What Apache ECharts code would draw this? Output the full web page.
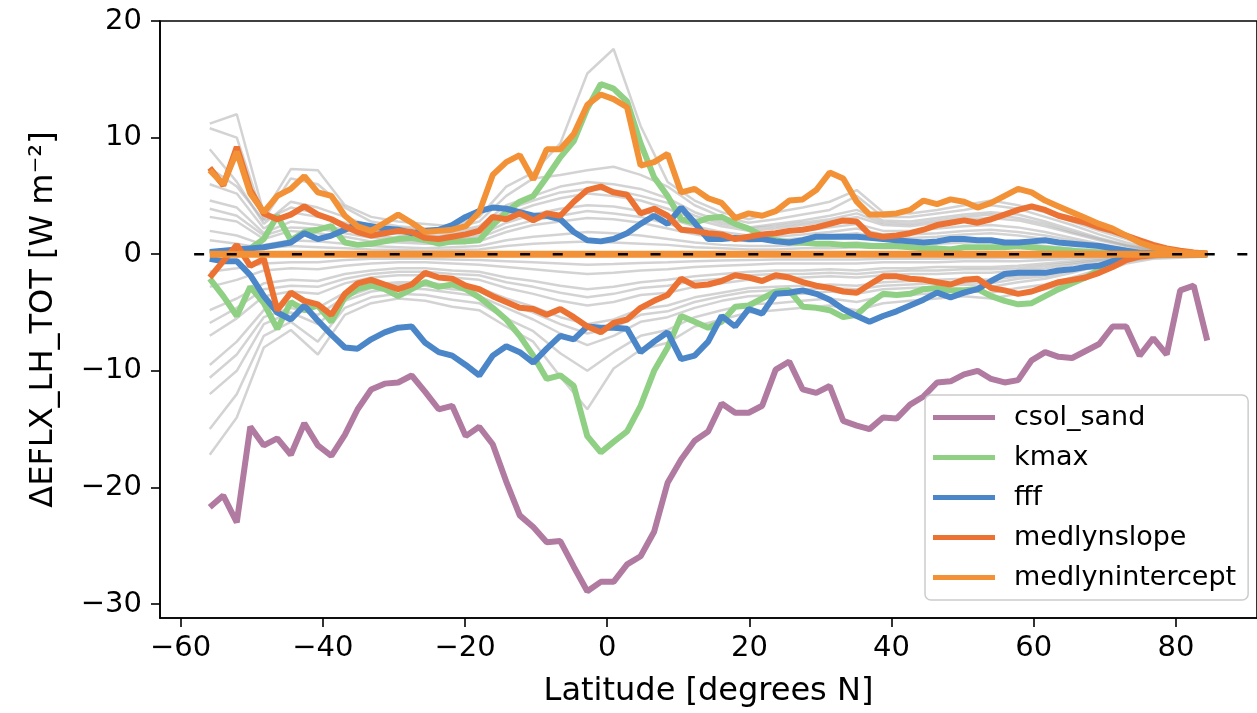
<!DOCTYPE html>
<html>
<head>
<meta charset="utf-8">
<script src="https://cdn.jsdelivr.net/npm/echarts@6/dist/echarts.min.js"></script>
<style>
  html, body { margin: 0; padding: 0; background: #fff; }
  #chart { width: 1257px; height: 713px; }
</style>
</head>
<body>
<div id="chart"></div>
<script>
// model latitudes (degrees N)
const latitude = [
  -55.9, -54.0, -52.1, -50.2, -48.3, -46.4, -44.5, -42.6, -40.7, -38.8,
  -36.9, -35.1, -33.2, -31.3, -29.4, -27.5, -25.6, -23.7, -21.8, -19.9,
  -18.0, -16.1, -14.2, -12.3, -10.4, -8.5, -6.6, -4.7, -2.8, -0.9,
  0.9, 2.8, 4.7, 6.6, 8.5, 10.4, 12.3, 14.2, 16.1, 18.0,
  19.9, 21.8, 23.7, 25.6, 27.5, 29.4, 31.3, 33.2, 35.1, 36.9,
  38.8, 40.7, 42.6, 44.5, 46.4, 48.3, 50.2, 52.1, 54.0, 55.9,
  57.8, 59.7, 61.6, 63.5, 65.4, 67.3, 69.2, 71.1, 73.0, 74.9,
  76.8, 78.7, 80.6, 82.5, 84.4
];

const csolSand = [
  -21.7, -20.7, -23.0, -14.8, -16.4, -15.8, -17.2, -14.5, -16.4, -17.3,
  -15.5, -13.3, -11.6, -11.1, -11.0, -10.4, -11.8, -13.3, -13.0, -15.6,
  -14.8, -16.3, -19.5, -22.4, -23.4, -24.7, -24.6, -26.8, -28.9, -28.1,
  -28.1, -26.6, -25.9, -23.8, -19.6, -17.6, -16.0, -15.2, -12.8, -13.6,
  -13.6, -13.0, -9.9, -9.2, -11.6, -11.9, -11.3, -14.3, -14.7, -15.0,
  -14.0, -14.1, -12.9, -12.2, -11.0, -10.9, -10.3, -10.0, -10.7, -11.0,
  -10.8, -9.1, -8.4, -8.8, -8.9, -8.3, -7.7, -6.2, -6.2, -8.7,
  -7.2, -8.6, -3.1, -2.7, -7.4
];

const kmaxHigh = [
  0.1, 0.2, 0.3, 0.5, 1.3, 3.3, 1.2, 1.9, 2.1, 2.4,
  1.0, 0.8, 0.9, 1.1, 1.3, 1.4, 1.2, 0.9, 1.1, 1.1,
  1.2, 2.5, 3.6, 4.5, 5.0, 6.6, 8.3, 9.7, 12.5, 14.6,
  14.2, 13.1, 9.5, 6.6, 5.0, 3.0, 2.7, 3.1, 3.2, 2.6,
  2.2, 1.6, 1.2, 1.0, 1.0, 0.9, 0.9, 0.8, 0.8, 0.7,
  0.7, 0.7, 0.6, 0.5, 0.5, 0.4, 0.6, 0.6, 0.6, 0.6,
  0.7, 0.6, 0.5, 0.4, 0.3, 0.2, 0.15, 0.1, 0.05, 0,
  0, 0, 0, 0, 0
];
const kmaxLow = [
  -2.1, -3.6, -5.3, -2.8, -4.2, -6.4, -4.1, -4.8, -4.4, -5.8,
  -3.7, -3.0, -2.7, -3.0, -3.6, -3.0, -2.4, -2.8, -2.6, -3.0,
  -3.7, -4.6, -5.6, -7.0, -8.7, -10.7, -10.4, -11.3, -15.6, -17.0,
  -16.1, -15.2, -13.0, -10.0, -8.0, -5.3, -5.8, -6.3, -5.8, -4.5,
  -4.4, -3.8, -3.2, -3.1, -4.5, -4.6, -4.8, -5.4, -5.2, -4.2,
  -3.4, -3.5, -3.4, -3.0, -2.9, -3.1, -3.1, -3.0, -3.6, -4.0,
  -4.3, -4.2, -3.6, -3.0, -2.5, -2.0, -1.3, -0.7, -0.3, -0.1,
  -0.05, 0, 0, 0, 0
];

const fffHigh = [
  0.2, 0.3, 0.4, 0.5, 0.6, 0.8, 1.0, 1.8, 1.3, 1.6,
  2.1, 2.6, 2.4, 2.2, 2.1, 1.8, 2.0, 2.1, 2.5, 3.2,
  3.7, 4.0, 3.9, 3.6, 3.3, 3.3, 3.0, 1.9, 1.2, 1.1,
  1.3, 1.8, 2.6, 3.3, 2.6, 4.0, 2.7, 1.3, 1.3, 1.4,
  1.3, 1.3, 1.1, 1.0, 1.2, 1.5, 1.5, 1.5, 1.5, 1.4,
  1.3, 1.2, 1.1, 1.0, 1.1, 1.3, 1.3, 1.2, 1.2, 1.0,
  1.0, 1.1, 1.2, 1.0, 0.9, 0.8, 0.7, 0.5, 0.3, 0.1,
  0.05, 0, 0, 0, 0
];
const fffLow = [
  -0.4, -0.6, -0.6, -1.8, -3.6, -5.0, -5.6, -4.4, -5.7, -6.9,
  -8.0, -8.1, -7.3, -6.7, -6.3, -6.2, -7.6, -8.4, -8.7, -9.5,
  -10.4, -8.7, -7.9, -8.4, -9.3, -8.1, -7.0, -7.3, -6.2, -6.3,
  -6.3, -6.4, -8.4, -7.5, -6.7, -9.0, -8.7, -7.5, -5.3, -6.2,
  -4.7, -5.1, -3.4, -3.3, -3.1, -3.4, -3.9, -4.7, -5.3, -5.8,
  -5.3, -4.9, -4.4, -3.9, -3.3, -3.7, -3.3, -3.0, -2.3, -1.7,
  -1.6, -1.6, -1.6, -1.4, -1.3, -1.1, -1.0, -0.6, -0.3, -0.1,
  0, 0, 0, 0, 0
];

const medlynslopeHigh = [
  7.4, 5.9, 9.2, 5.5, 3.5, 3.0, 3.4, 4.1, 3.4, 3.0,
  2.4, 1.9, 1.6, 1.8, 2.0, 1.9, 1.4, 1.3, 1.5, 1.7,
  2.0, 3.2, 3.0, 3.5, 2.9, 3.5, 3.3, 4.5, 5.5, 5.8,
  5.3, 5.1, 3.5, 3.9, 3.3, 2.1, 2.0, 1.8, 1.7, 1.3,
  1.5, 1.7, 1.8, 2.0, 2.1, 2.3, 2.6, 2.9, 2.8, 1.7,
  1.5, 1.6, 1.8, 2.1, 2.5, 2.7, 2.9, 2.7, 3.0, 3.4,
  3.8, 4.1, 3.8, 3.3, 3.0, 2.7, 2.3, 2.0, 1.6, 1.2,
  0.8, 0.5, 0.3, 0.15, 0.05
];
const medlynslopeLow = [
  -2.0, -0.6, 0.8, -1.0, -0.4, -4.8, -3.3, -4.0, -4.3, -5.2,
  -3.4, -2.5, -2.2, -2.6, -3.0, -2.6, -1.6, -2.0, -2.1, -2.7,
  -3.0, -3.6, -4.1, -4.6, -4.7, -5.2, -4.7, -5.4, -6.2, -6.7,
  -5.9, -5.6, -4.6, -4.0, -3.5, -2.1, -2.7, -2.6, -2.3, -1.8,
  -2.0, -2.3, -1.8, -2.0, -2.4, -2.7, -2.9, -3.2, -3.3, -2.6,
  -1.9, -1.9, -2.1, -2.2, -2.4, -2.6, -2.2, -2.1, -2.9, -3.1,
  -3.4, -3.2, -2.8, -2.4, -2.2, -2.0, -1.6, -1.1, -0.5, -0.2,
  -0.1, 0, 0, 0, 0
];

const medlyninterceptHigh = [
  7.2, 6.0, 8.8, 5.2, 3.6, 5.0, 5.6, 6.7, 5.3, 5.0,
  3.3, 2.4, 2.0, 2.7, 3.4, 2.7, 1.9, 2.0, 2.1, 2.4,
  3.6, 6.8, 7.9, 8.5, 6.4, 9.0, 9.0, 10.3, 12.8, 13.7,
  13.3, 12.6, 7.6, 7.9, 8.6, 5.3, 5.6, 4.8, 4.4, 3.1,
  3.5, 3.3, 3.7, 4.6, 4.7, 5.5, 7.0, 6.5, 4.5, 3.4,
  3.4, 3.5, 3.8, 4.6, 4.3, 4.7, 4.5, 4.0, 4.4, 5.0,
  5.6, 5.3, 4.6, 4.1, 3.6, 3.1, 2.6, 2.2, 1.6, 1.0,
  0.6, 0.4, 0.2, 0.1, 0.05
];
const medlyninterceptLow = [
  0, 0, 0, 0, 0, 0, 0, 0, 0, 0,
  0, 0, 0, 0, 0, 0, 0, 0, 0, 0,
  0, 0, 0, 0, 0, 0, 0, 0, 0, 0,
  0, 0, 0, 0, 0, 0, 0, 0, 0, 0,
  0, 0, 0, 0, 0, 0, 0, 0, 0, 0,
  0, 0, 0, 0, 0, 0, 0, 0, 0, 0,
  0, 0, 0, 0, 0, 0, 0, 0, 0, 0,
  0, 0, 0, 0, 0
];

// the other ensemble members (grey), read at every second latitude
const grayLatitude = [
  -55.9, -52.1, -48.3, -44.5, -40.7, -36.9, -33.2, -29.4, -25.6, -21.8,
  -18.0, -14.2, -10.4, -6.6, -2.8, 0.9, 4.7, 8.5, 12.3, 16.1,
  19.9, 23.7, 27.5, 31.3, 35.1, 38.8, 42.6, 46.4, 50.2, 54.0,
  57.8, 61.6, 65.4, 69.2, 73.0, 76.8, 80.6, 84.4
];
const grayRuns = [
  [11.2, 12.0, 3.5, 7.3, 7.2, 4.2, 3.2, 2.8, 2.6, 2.4, 3.2, 5.8, 7.0, 9.5, 15.5, 17.6, 11.0, 6.2, 4.6, 3.6,
   3.0, 3.6, 4.0, 4.5, 5.5, 3.6, 3.5, 3.8, 4.2, 4.6, 4.2, 3.6, 2.8, 2.0, 1.3, 0.6, 0.3, 0.2],
  [10.8, 10.0, 3.0, 6.5, 6.0, 4.0, 2.8, 2.4, 2.2, 2.2, 2.8, 5.0, 6.5, 6.8, 7.2, 7.5, 6.8, 5.8, 4.2, 3.2,
   2.7, 3.0, 3.4, 3.8, 5.0, 3.2, 3.2, 3.5, 3.8, 4.2, 3.9, 3.2, 2.5, 1.7, 1.0, 0.5, 0.3, 0.2],
  [9.0, 6.2, 2.6, 4.5, 4.0, 3.2, 2.4, 2.0, 1.9, 1.9, 2.4, 4.2, 5.0, 5.8, 6.2, 6.0, 5.6, 4.8, 3.6, 2.8,
   2.3, 2.6, 2.9, 3.3, 3.8, 2.9, 2.8, 3.1, 3.4, 3.6, 3.4, 2.8, 2.1, 1.4, 0.8, 0.4, 0.2, 0.1],
  [7.4, 5.8, 2.9, 4.0, 3.5, 2.4, 2.2, 2.3, 2.0, 1.7, 2.2, 3.8, 4.6, 5.3, 5.6, 5.5, 5.0, 4.4, 3.3, 2.6,
   2.2, 2.4, 2.7, 3.0, 3.5, 2.7, 2.6, 2.9, 3.2, 3.4, 3.1, 2.6, 1.9, 1.3, 0.75, 0.35, 0.2, 0.1],
  [6.0, 5.2, 2.2, 3.6, 3.2, 2.7, 2.0, 1.7, 1.6, 1.6, 2.0, 3.4, 4.2, 4.8, 5.2, 5.0, 4.6, 3.9, 3.0, 2.4,
   2.0, 2.2, 2.5, 2.8, 3.2, 2.5, 2.4, 2.7, 3.0, 3.1, 2.9, 2.4, 1.8, 1.2, 0.7, 0.3, 0.2, 0.1],
  [4.6, 4.0, 1.8, 2.8, 2.5, 2.1, 1.6, 1.4, 1.3, 1.3, 1.6, 2.7, 3.4, 3.9, 4.2, 4.1, 3.7, 3.1, 2.4, 1.9,
   1.6, 1.8, 2.0, 2.3, 2.6, 2.0, 2.0, 2.2, 2.4, 2.5, 2.3, 1.9, 1.4, 0.9, 0.5, 0.25, 0.15, 0.1],
  [3.9, 3.3, 1.6, 2.3, 2.2, 1.8, 1.4, 1.2, 1.1, 1.2, 1.4, 2.3, 2.9, 3.3, 3.7, 3.5, 3.2, 2.6, 2.0, 1.6,
   1.3, 1.5, 1.7, 1.9, 2.2, 1.7, 1.7, 1.8, 2.0, 2.1, 1.9, 1.6, 1.2, 0.8, 0.45, 0.2, 0.1, 0.05],
  [3.2, 2.8, 1.3, 2.0, 1.8, 1.5, 1.1, 1.0, 0.9, 0.9, 1.1, 1.9, 2.5, 2.8, 3.1, 3.0, 2.7, 2.2, 1.7, 1.3,
   1.1, 1.2, 1.4, 1.6, 1.8, 1.4, 1.4, 1.5, 1.7, 1.8, 1.6, 1.3, 1.0, 0.6, 0.35, 0.2, 0.1, 0.05],
  [2.0, 1.6, 0.8, 1.2, 1.1, 0.9, 0.7, 0.6, 0.5, 0.6, 0.7, 1.2, 1.5, 1.7, 1.9, 1.8, 1.6, 1.3, 1.0, 0.8,
   0.7, 0.7, 0.8, 0.9, 1.0, 0.8, 0.8, 0.9, 1.0, 1.0, 0.9, 0.7, 0.5, 0.35, 0.2, 0.1, 0.05, 0.05],
  [1.2, 0.9, 0.5, 0.7, 0.6, 0.5, 0.4, 0.35, 0.3, 0.35, 0.4, 0.7, 0.9, 1.0, 1.1, 1.0, 0.9, 0.8, 0.6, 0.5,
   0.4, 0.4, 0.5, 0.5, 0.6, 0.5, 0.5, 0.5, 0.6, 0.6, 0.5, 0.4, 0.3, 0.2, 0.1, 0.05, 0.05, 0.05],
  [-17.2, -14.0, -8.0, -6.5, -8.6, -5.2, -4.2, -3.8, -4.0, -4.5, -4.8, -6.2, -7.5, -10.5, -13.3, -9.8, -8.2, -7.6, -6.2, -5.6,
   -5.0, -4.8, -4.6, -4.4, -4.8, -4.2, -4.0, -3.8, -3.6, -3.8, -3.4, -3.0, -2.4, -1.6, -0.8, -0.4, -0.3, -0.2],
  [-15.0, -12.0, -7.0, -5.8, -7.5, -4.6, -3.7, -3.4, -3.5, -3.9, -4.2, -5.5, -6.6, -8.5, -10.0, -8.4, -7.0, -6.5, -5.4, -4.8,
   -4.3, -4.2, -4.0, -3.8, -4.1, -3.6, -3.5, -3.3, -3.1, -3.3, -2.9, -2.6, -2.0, -1.3, -0.6, -0.3, -0.2, -0.15],
  [-12.0, -10.0, -6.0, -5.0, -6.0, -4.0, -3.2, -2.9, -3.0, -3.3, -3.6, -4.6, -5.6, -6.8, -7.8, -7.0, -5.8, -5.4, -4.6, -4.0,
   -3.6, -3.5, -3.4, -3.2, -3.4, -3.0, -2.9, -2.8, -2.6, -2.8, -2.4, -2.1, -1.6, -1.0, -0.5, -0.25, -0.15, -0.1],
  [-10.6, -8.6, -5.4, -4.6, -5.2, -3.7, -2.9, -2.6, -2.7, -3.0, -3.2, -4.2, -5.0, -6.0, -6.8, -6.3, -5.2, -4.9, -4.1, -3.6,
   -3.2, -3.1, -3.0, -2.9, -3.0, -2.7, -2.6, -2.5, -2.4, -2.5, -2.1, -1.9, -1.4, -0.9, -0.45, -0.2, -0.1, -0.1],
  [-9.5, -7.5, -4.8, -4.2, -4.6, -3.3, -2.6, -2.4, -2.4, -2.7, -2.9, -3.8, -4.5, -5.4, -6.0, -5.6, -4.7, -4.4, -3.7, -3.3,
   -2.9, -2.8, -2.7, -2.6, -2.7, -2.4, -2.3, -2.2, -2.1, -2.2, -1.9, -1.7, -1.3, -0.8, -0.4, -0.2, -0.1, -0.1],
  [-7.0, -5.5, -3.6, -3.2, -3.4, -2.5, -2.0, -1.8, -1.8, -2.0, -2.2, -2.9, -3.4, -4.0, -4.4, -4.1, -3.5, -3.3, -2.8, -2.5,
   -2.2, -2.1, -2.0, -1.9, -2.0, -1.8, -1.7, -1.7, -1.6, -1.6, -1.4, -1.2, -0.9, -0.6, -0.3, -0.15, -0.1, -0.05],
  [-5.9, -4.6, -3.0, -2.7, -2.8, -2.1, -1.7, -1.5, -1.5, -1.7, -1.8, -2.4, -2.8, -3.3, -3.7, -3.4, -2.9, -2.7, -2.3, -2.1,
   -1.8, -1.7, -1.7, -1.6, -1.7, -1.5, -1.4, -1.4, -1.3, -1.3, -1.2, -1.0, -0.75, -0.5, -0.25, -0.1, -0.1, -0.05],
  [-4.8, -3.8, -2.5, -2.2, -2.3, -1.7, -1.4, -1.2, -1.2, -1.4, -1.5, -2.0, -2.3, -2.7, -3.0, -2.8, -2.4, -2.2, -1.9, -1.7,
   -1.5, -1.4, -1.4, -1.3, -1.4, -1.2, -1.2, -1.1, -1.1, -1.1, -1.0, -0.8, -0.6, -0.4, -0.2, -0.1, -0.05, -0.05],
  [-2.8, -2.2, -1.4, -1.2, -1.3, -1.0, -0.8, -0.7, -0.7, -0.8, -0.9, -1.1, -1.3, -1.5, -1.7, -1.6, -1.4, -1.3, -1.1, -1.0,
   -0.9, -0.8, -0.8, -0.8, -0.8, -0.7, -0.7, -0.7, -0.6, -0.6, -0.6, -0.5, -0.4, -0.25, -0.1, -0.05, -0.05, -0.05],
  [-1.5, -1.2, -0.8, -0.7, -0.7, -0.5, -0.4, -0.4, -0.4, -0.45, -0.5, -0.6, -0.7, -0.8, -0.9, -0.85, -0.75, -0.7, -0.6, -0.55,
   -0.5, -0.45, -0.45, -0.45, -0.45, -0.4, -0.4, -0.4, -0.35, -0.35, -0.3, -0.3, -0.2, -0.15, -0.05, -0.05, -0.05, -0.05]
];

const zeroLineLat = [-58.1, 91.4];
const zeroLineVal = [0, 0];

const xTicks = [-60, -40, -20, 0, 20, 40, 60, 80];
const yTicks = [-30, -20, -10, 0, 10, 20];

const font = "'DejaVu Sans', sans-serif";
const minus = (v) => String(v).replace('-', '\u2212');
const pairs = (xs, ys) => xs.map((x, i) => [x, ys[i]]);

const colors = {
  csol_sand: '#b07aa1',
  kmax: '#8fd084',
  fff: '#4a86c8',
  medlynslope: '#ec7233',
  medlynintercept: '#f39137'
};

const series = [];
grayRuns.forEach((run) => {
  series.push({
    type: 'line',
    data: pairs(grayLatitude, run),
    showSymbol: false,
    silent: true,
    lineStyle: { color: 'rgba(175,175,175,0.55)', width: 2.5 },
    z: 1
  });
});

function colored(name, values, width) {
  series.push({
    name: name,
    type: 'line',
    data: pairs(latitude, values),
    showSymbol: false,
    silent: true,
    itemStyle: { color: colors[name] },
    lineStyle: { color: colors[name], width: width || 6 },
    z: 3
  });
}
colored('csol_sand', csolSand);
colored('kmax', kmaxHigh);
colored('kmax', kmaxLow);
colored('fff', fffHigh);
colored('fff', fffLow);
colored('medlynslope', medlynslopeHigh);
colored('medlynslope', medlynslopeLow);
colored('medlynintercept', medlyninterceptHigh);
colored('medlynintercept', medlyninterceptLow, 7);

series.push({
  type: 'line',
  data: pairs(zeroLineLat, zeroLineVal),
  showSymbol: false,
  silent: true,
  lineStyle: { color: '#000', width: 2.5, type: [10, 22.6] },
  z: 5
});

const option = {
  animation: false,
  backgroundColor: '#fff',
  textStyle: { fontFamily: font },
  grid: {
    left: 160, top: 21, right: -8, bottom: 95,
    show: true, borderColor: '#000', borderWidth: 1.6, backgroundColor: 'transparent'
  },
  xAxis: {
    type: 'value', min: -62.9, max: 91.4,
    name: 'Latitude [degrees N]', nameLocation: 'middle', nameGap: 58,
    nameTextStyle: { fontSize: 32, color: '#000', fontFamily: font },
    axisLine: { show: true, onZero: false, lineStyle: { color: '#000', width: 1.6 } },
    splitLine: { show: false },
    axisTick: { show: true, length: 9, customValues: xTicks, lineStyle: { color: '#000', width: 1.6 } },
    axisLabel: { customValues: xTicks, formatter: minus, fontSize: 29, color: '#000', margin: 16, fontFamily: font }
  },
  yAxis: {
    type: 'value', min: -31.2, max: 20,
    name: '\u0394EFLX_LH_TOT [W m\u207B\u00B2]', nameLocation: 'middle', nameGap: 100, nameRotate: 90,
    nameTextStyle: { fontSize: 32, color: '#000', fontFamily: font },
    axisLine: { show: true, onZero: false, lineStyle: { color: '#000', width: 1.6 } },
    splitLine: { show: false },
    axisTick: { show: true, length: 9, customValues: yTicks, lineStyle: { color: '#000', width: 1.6 } },
    axisLabel: { customValues: yTicks, formatter: minus, fontSize: 29, color: '#000', margin: 18, fontFamily: font }
  },
  legend: {
    data: ['csol_sand', 'kmax', 'fff', 'medlynslope', 'medlynintercept'],
    orient: 'vertical', left: 925, top: 395,
    icon: 'rect', itemWidth: 62, itemHeight: 5, itemGap: 13,
    padding: [9, 12, 9, 8],
    backgroundColor: 'rgba(255,255,255,0.85)',
    borderColor: '#cccccc', borderWidth: 1.5, borderRadius: 6,
    selectedMode: false,
    textStyle: { fontSize: 27, color: '#000', fontFamily: font, padding: [0, 0, 0, 14] }
  },
  series: series
};

const chart = echarts.init(document.getElementById('chart'), null, { renderer: 'canvas' });
chart.setOption(option);
</script>
</body>
</html>
